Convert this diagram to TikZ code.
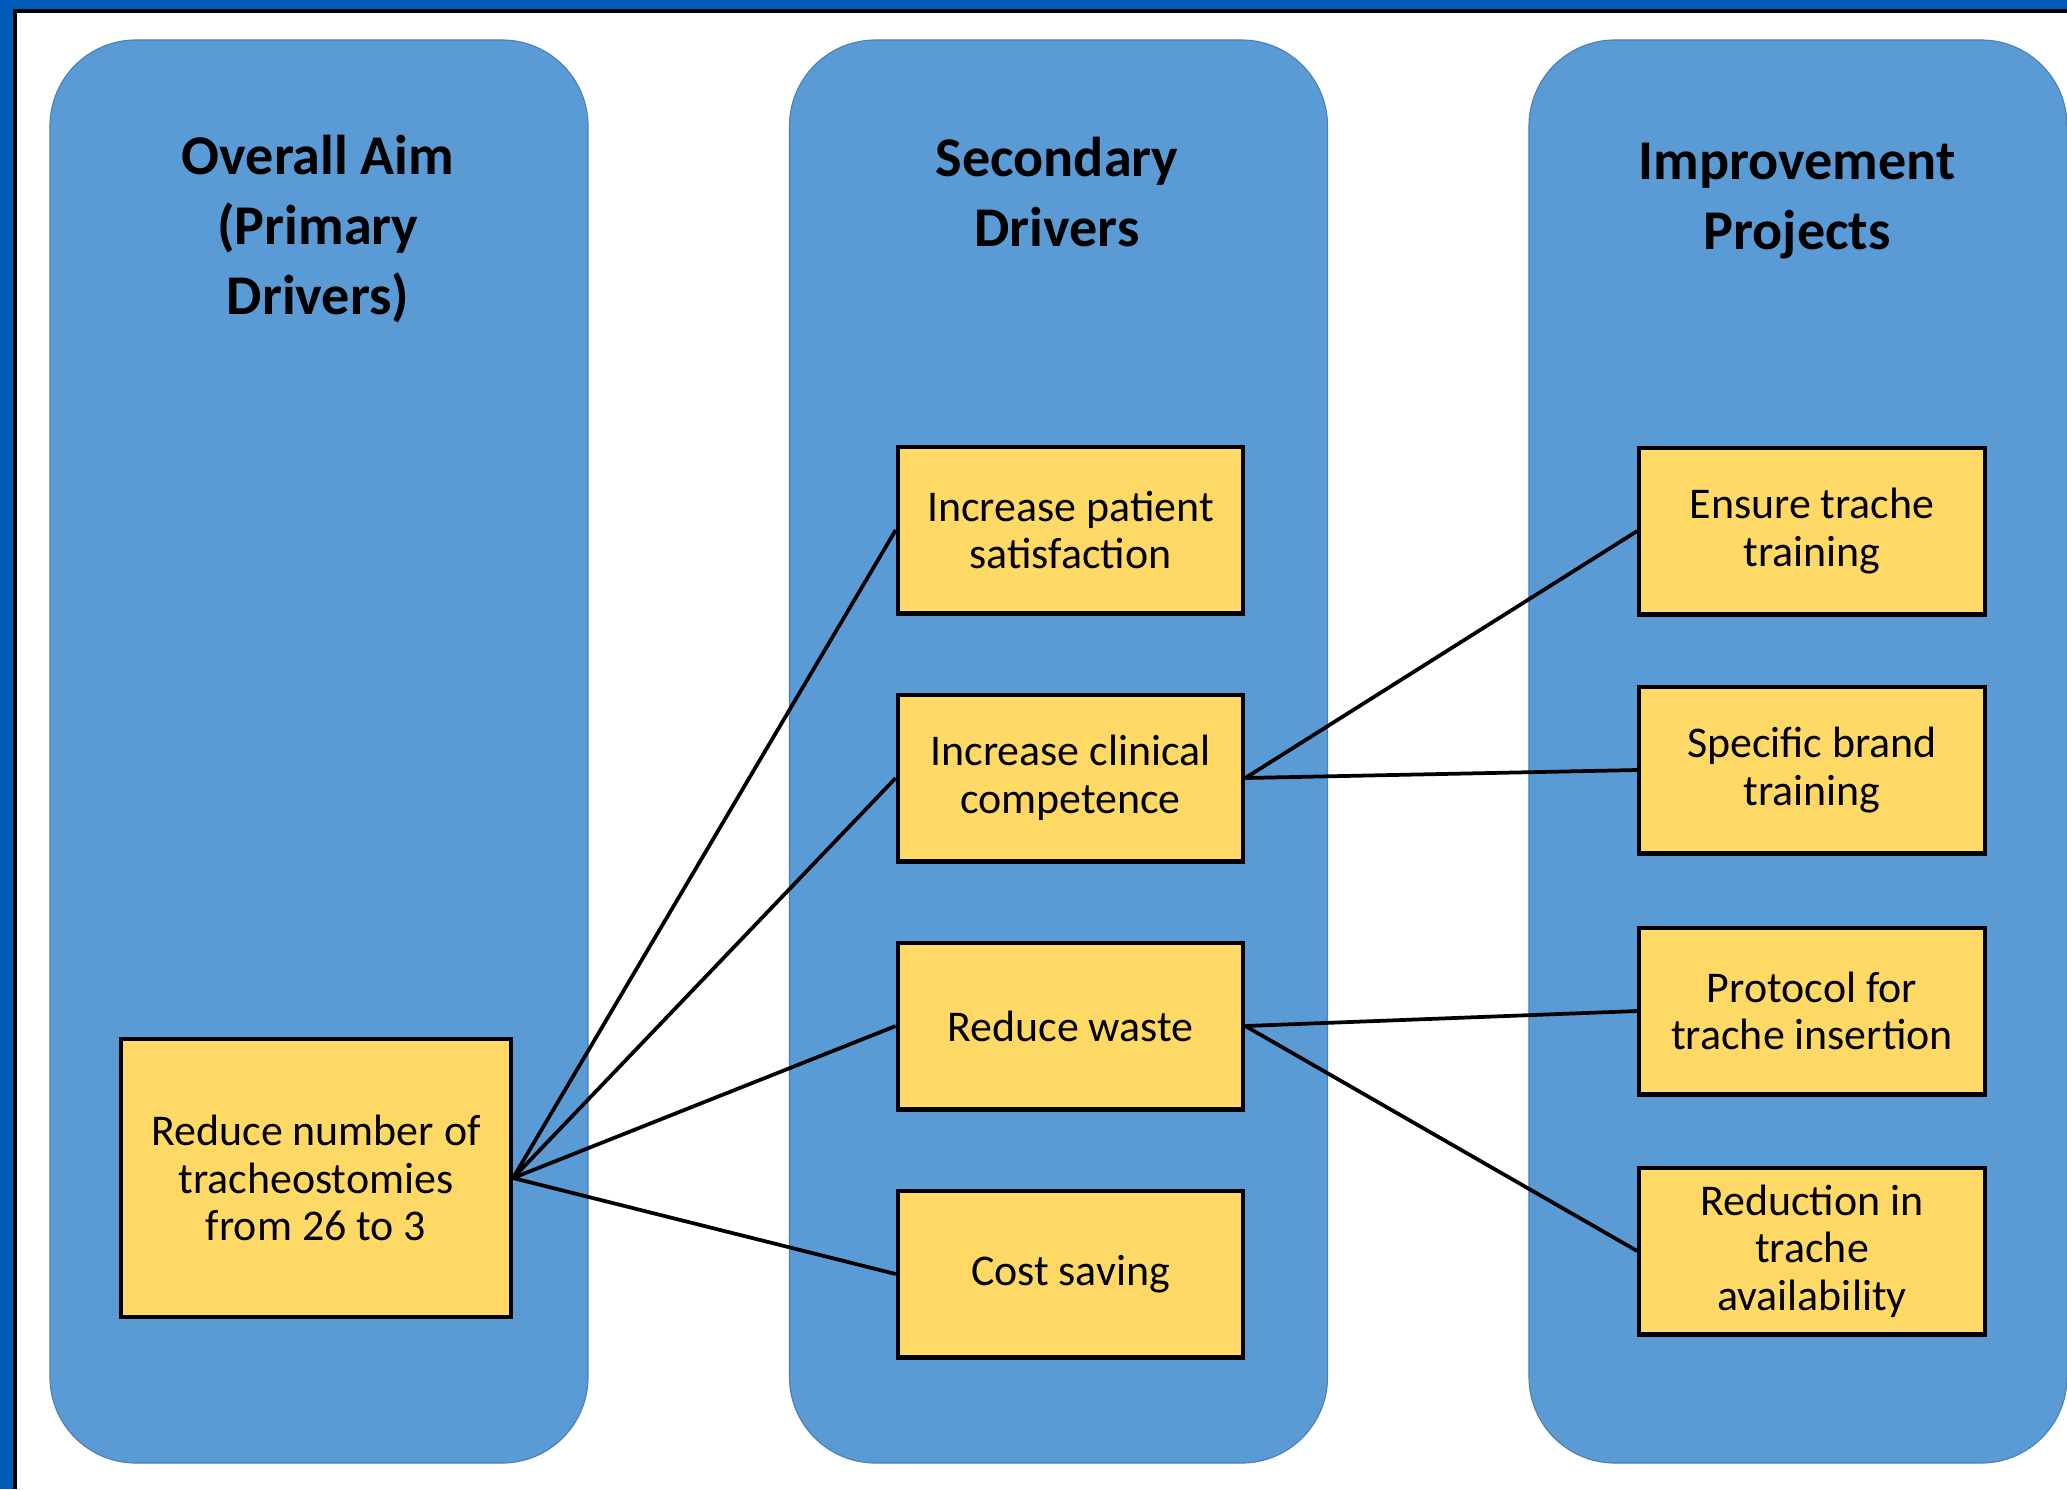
\documentclass[tikz,border=0pt]{standalone}
\usepackage{fontspec}
\setmainfont{Carlito}
\definecolor{framebl}{HTML}{005CB9}
\definecolor{colblue}{HTML}{5B9BD5}
\definecolor{coledge}{HTML}{4A80B5}
\definecolor{ybox}{HTML}{FFD966}
\begin{document}
\begin{tikzpicture}[x=0.36pt,y=-0.36pt,
  column/.style={fill=colblue,draw=coledge,line width=0.4pt,rounded corners=31pt,
    minimum width=193.7pt,minimum height=512.3pt,inner sep=0pt},
  title/.style={font=\bfseries\fontsize{20.2}{25.2}\selectfont,align=center,inner sep=0pt},
  yb/.style={draw=black,line width=1.45pt,fill=ybox,align=center,inner sep=0pt,
    font=\fontsize{15.8}{17.1}\selectfont,minimum width=124.4pt,minimum height=60.1pt},
  link/.style={line width=1.35pt,draw=black}]
\useasboundingbox (0,0) rectangle (2067,1489);
% frame
\fill[framebl] (0,0) rectangle (2067,1489);
\fill[white] (15,11) rectangle (2067,1489);
\draw[black,line width=1.3pt] (15,1489) -- (15,11) -- (2067,11);
% columns
\node[column] (c1) at (319,751.5) {};
\node[column] (c2) at (1058.5,751.5) {};
\node[column] (c3) at (1798,751.5) {};
% titles
\node[title] (t1) at (318,229) {Overall Aim\\(Primary\\Drivers)};
\node[title] (t2) at (1057,192) {Secondary\\Drivers};
\node[title] (t3) at (1797,201) {Improvement\\Projects};
% primary
\node[yb,minimum width=140.4pt,minimum height=100.1pt] (aim) at (316,1178)
  {Reduce number of\\tracheostomies\\from 26 to 3};
% secondary
\node[yb] (s1) at (1070.5,530) {Increase patient\\satisfaction};
\node[yb] (s2) at (1070.5,778) {Increase clinical\\competence};
\node[yb] (s3) at (1070.5,1026) {Reduce waste};
\node[yb] (s4) at (1070.5,1274) {Cost saving};
% improvement projects
\node[yb] (p1) at (1812,531) {Ensure trache\\training};
\node[yb] (p2) at (1812,770) {Specific brand\\training};
\node[yb] (p3) at (1812,1011) {Protocol for\\trache insertion};
\node[yb] (p4) at (1812,1251) {Reduction in\\trache\\availability};
% connectors
\draw[link] (aim.east) -- (s1.west);
\draw[link] (aim.east) -- (s2.west);
\draw[link] (aim.east) -- (s3.west);
\draw[link] (aim.east) -- (s4.west);
\draw[link] (s2.east) -- (p1.west);
\draw[link] (s2.east) -- (p2.west);
\draw[link] (s3.east) -- (p3.west);
\draw[link] (s3.east) -- (p4.west);
\end{tikzpicture}
\end{document}
